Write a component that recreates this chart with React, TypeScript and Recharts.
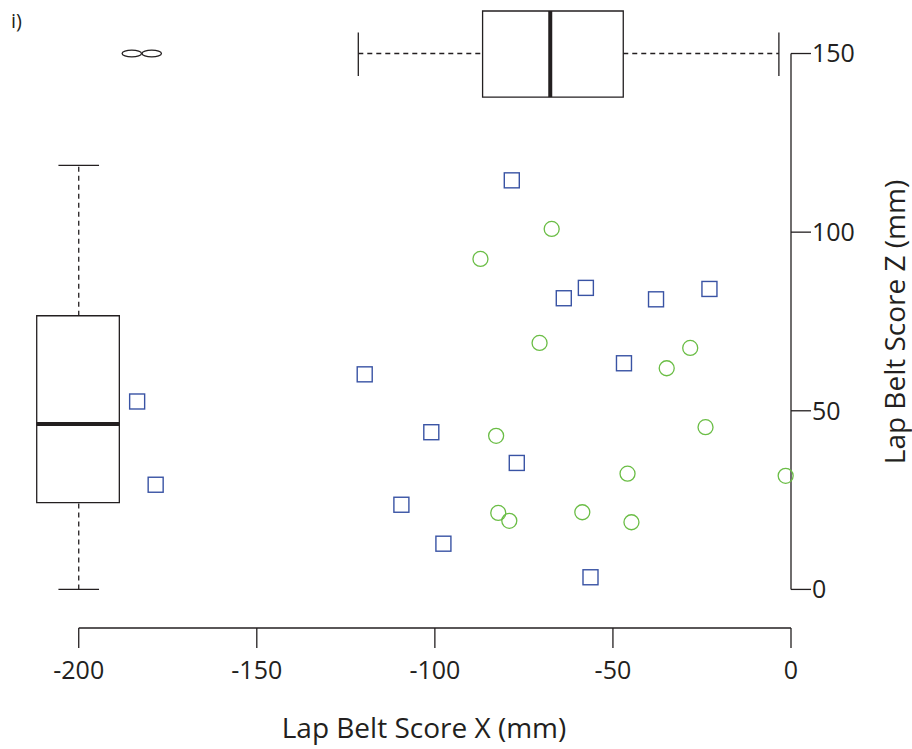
import React from 'react';
import {
  ScatterChart,
  Scatter,
  XAxis,
  YAxis,
  ReferenceArea,
  ReferenceLine,
} from 'recharts';

// blue squares
const squareX = [-78.4, -63.8, -57.6, -37.9, -22.9, -119.7, -46.9, -101.0, -77.0, -109.4, -97.6, -56.3, -183.6, -178.4];
const squareZ = [114.5, 81.5, 84.4, 81.2, 84.1, 60.2, 63.3, 44.0, 35.4, 23.7, 12.8, 3.4, 52.6, 29.3];

// green circles
const circleX = [-67.2, -87.2, -70.6, -28.3, -34.9, -82.8, -24.0, -45.9, -1.5, -82.2, -79.1, -58.6, -44.8];
const circleZ = [100.9, 92.5, 69.0, 67.6, 61.9, 43.0, 45.4, 32.4, 31.8, 21.4, 19.2, 21.6, 18.8];

// box plot of X (drawn at the top) : low whisker, q1, median, q3, high whisker
const boxX = [-121.5, -86.6, -67.6, -47.1, -3.4];
const boxXOutliers = [-185.1, -179.5];
// box plot of Z (drawn at the left)
const boxZ = [0, 24.3, 46.3, 76.6, 118.7];

const xTicks = [-200, -150, -100, -50, 0];
const zTicks = [0, 50, 100, 150];

const squares = squareX.map((x, i) => ({ x, z: squareZ[i] }));
const circles = circleX.map((x, i) => ({ x, z: circleZ[i] }));
const outliers = boxXOutliers.map((x) => ({ x, z: 150 }));

const BLUE = '#3953a4';
const GREEN = '#6abd45';
const INK = '#231f20';
const FONT = '"Open Sans", sans-serif';

const xMin = -212;
const zMin = -10.8;

const SquareShape = (props: any) => {
  const { cx, cy } = props;
  return <rect x={cx - 7.5} y={cy - 7.5} width={15} height={15} fill="none" stroke={BLUE} strokeWidth={1.4} />;
};

const CircleShape = (props: any) => {
  const { cx, cy } = props;
  return <circle cx={cx} cy={cy} r={7.5} fill="none" stroke={GREEN} strokeWidth={1.3} />;
};

const OutlierShape = (props: any) => {
  const { cx, cy } = props;
  return <ellipse cx={cx} cy={cy} rx={9.7} ry={3.3} fill="none" stroke={INK} strokeWidth={1.3} />;
};

const XTitle = () => (
  <text x={424} y={738} textAnchor="middle" fontSize={28} fontFamily={FONT} fill={INK}>
    Lap Belt Score X (mm)
  </text>
);

const ZTitle = () => (
  <g>
    <text x={905} y={322} transform="rotate(-90, 905, 322)" textAnchor="middle" fontSize={28} fontFamily={FONT} fill={INK}>
      Lap Belt Score Z (mm)
    </text>
    <text x={11} y={28} fontSize={20} fontFamily={FONT} fill={INK}>
      i)
    </text>
  </g>
);

export default function App() {
  const [lo, q1, med, q3, hi] = boxX;
  const [zlo, zq1, zmed, zq3, zhi] = boxZ;
  const line = { stroke: INK, strokeWidth: 1.3, ifOverflow: 'visible' as const };
  const dashed = { ...line, strokeDasharray: '5 4' };

  return (
    <div style={{ position: 'absolute', left: 0, top: 0, width: 912, height: 749, background: '#fff' }}>
      <ScatterChart width={912} height={749} margin={{ top: 11, right: 21, bottom: 21, left: 36 }}>
        <XAxis
          type="number"
          dataKey="x"
          domain={[xMin, 0]}
          ticks={xTicks}
          axisLine={false}
          tickSize={20}
          tickMargin={13}
          tickLine={{ stroke: INK, strokeWidth: 1.3 }}
          tick={{ fill: INK, fontSize: 25, fontFamily: FONT }}
          height={100}
          label={<XTitle />}
        />
        <YAxis
          type="number"
          dataKey="z"
          orientation="right"
          domain={[zMin, 161.9]}
          ticks={zTicks}
          axisLine={false}
          tickSize={20}
          tickMargin={1}
          tickLine={{ stroke: INK, strokeWidth: 1.3 }}
          tick={{ fill: INK, fontSize: 25, fontFamily: FONT }}
          width={100}
          label={<ZTitle />}
        />

        {/* axis lines, R style, only over the tick range */}
        <ReferenceLine segment={[{ x: -200, y: zMin }, { x: 0, y: zMin }]} {...line} />
        <ReferenceLine segment={[{ x: 0, y: 0 }, { x: 0, y: 150 }]} {...line} />

        {/* horizontal box plot of X */}
        <ReferenceLine segment={[{ x: lo, y: 150 }, { x: q1, y: 150 }]} {...dashed} />
        <ReferenceLine segment={[{ x: q3, y: 150 }, { x: hi, y: 150 }]} {...dashed} />
        <ReferenceLine segment={[{ x: lo, y: 143.7 }, { x: lo, y: 155.9 }]} {...line} />
        <ReferenceLine segment={[{ x: hi, y: 143.7 }, { x: hi, y: 155.9 }]} {...line} />
        <ReferenceArea x1={q1} x2={q3} y1={137.8} y2={161.9} fill="#fff" fillOpacity={1} stroke={INK} strokeWidth={1.3} ifOverflow="visible" />
        <ReferenceLine segment={[{ x: med, y: 137.8 }, { x: med, y: 161.9 }]} stroke={INK} strokeWidth={4} ifOverflow="visible" />

        {/* vertical box plot of Z */}
        <ReferenceLine segment={[{ x: -200, y: zlo }, { x: -200, y: zq1 }]} {...dashed} />
        <ReferenceLine segment={[{ x: -200, y: zq3 }, { x: -200, y: zhi }]} {...dashed} />
        <ReferenceLine segment={[{ x: -205.7, y: zlo }, { x: -194.3, y: zlo }]} {...line} />
        <ReferenceLine segment={[{ x: -205.7, y: zhi }, { x: -194.3, y: zhi }]} {...line} />
        <ReferenceArea x1={-211.8} x2={-188.6} y1={zq1} y2={zq3} fill="#fff" fillOpacity={1} stroke={INK} strokeWidth={1.3} ifOverflow="visible" />
        <ReferenceLine segment={[{ x: -211.8, y: zmed }, { x: -188.6, y: zmed }]} stroke={INK} strokeWidth={4} ifOverflow="visible" />

        <Scatter data={outliers} shape={<OutlierShape />} isAnimationActive={false} />
        <Scatter data={squares} shape={<SquareShape />} isAnimationActive={false} />
        <Scatter data={circles} shape={<CircleShape />} isAnimationActive={false} />
      </ScatterChart>
    </div>
  );
}
